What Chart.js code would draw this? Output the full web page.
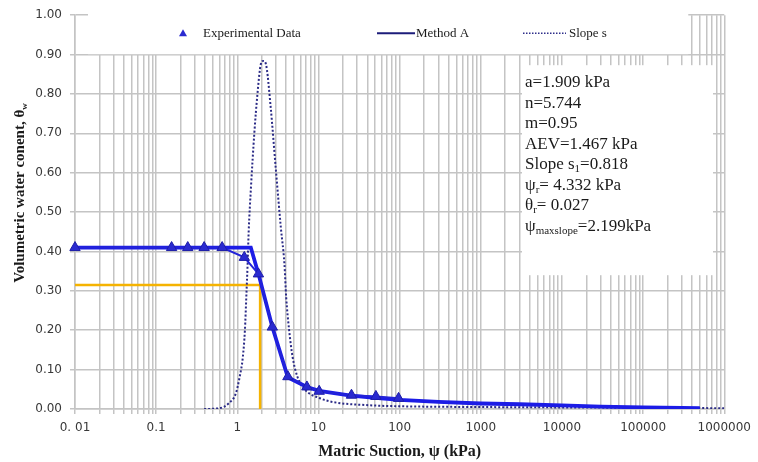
<!DOCTYPE html>
<html>
<head>
<meta charset="utf-8">
<script src="https://cdn.jsdelivr.net/npm/chart.js@4.4.1/dist/chart.umd.min.js"></script>
<style>
  html, body { margin: 0; padding: 0; background: #fff; }
  #wrap { width: 758px; height: 462px; }
</style>
</head>
<body>
<div id="wrap"><canvas id="swcc" width="758" height="462"></canvas></div>
<script>
// measured points (suction in kPa, volumetric water content)
const expSuction = [0.01, 0.155, 0.245, 0.39, 0.65, 1.22, 1.82, 2.7, 4.2, 7.2, 10.2, 25.5, 51, 97];
const expTheta   = [0.41, 0.41, 0.41, 0.41, 0.41, 0.385, 0.343, 0.208, 0.082, 0.056, 0.045, 0.035, 0.032, 0.027];

// Method A fit
const fitSuction = [0.01, 1.467, 1.85, 2.7, 4.2, 7.2, 10.2, 25, 50, 100, 300, 1000, 3000, 10000, 30000, 100000, 300000, 500000];
const fitTheta   = [0.41, 0.41, 0.338, 0.208, 0.08, 0.056, 0.046, 0.034, 0.028, 0.023, 0.018, 0.014, 0.012, 0.009, 0.006, 0.004, 0.003, 0.002];

// slope s curve
const slopeSuction = [0.39, 0.6, 0.79, 0.96, 1.07, 1.17, 1.24, 1.29, 1.34, 1.38, 1.47, 1.62, 1.77, 1.95, 2.09, 2.25, 2.58, 2.97, 3.44, 3.8, 4.0, 4.35, 4.8, 5.5, 6.9, 10.2, 14.8, 38, 100, 1000, 10000, 100000, 1000000];
const slopeValue   = [0, 0.002, 0.015, 0.04, 0.082, 0.132, 0.2, 0.284, 0.37, 0.45, 0.56, 0.70, 0.80, 0.876, 0.884, 0.876, 0.765, 0.613, 0.46, 0.37, 0.284, 0.2, 0.132, 0.082, 0.048, 0.028, 0.018, 0.01, 0.007, 0.005, 0.004, 0.003, 0.002];

// guide lines at a = 1.909 kPa
const guideSuction = [0.01, 1.909, 1.909];
const guideTheta   = [0.315, 0.315, 0];

const decadeTicks  = [0.01, 0.1, 1, 10, 100, 1000, 10000, 100000, 1000000];
const decadeLabels = ['0. 01', '0.1', '1', '10', '100', '1000', '10000', '100000', '1000000'];
const minorSteps   = [2, 3, 4, 5, 6, 7, 8, 9];

// text box lines: [text, isSubscript]
const fitParams = [
    [['a=1.909 kPa']],
    [['n=5.744']],
    [['m=0.95']],
    [['AEV=1.467 kPa']],
    [['Slope s'], ['1', true], ['=0.818']],
    [['\u03c8'], ['r', true], ['= 4.332 kPa']],
    [['\u03b8'], ['r', true], ['= 0.027']],
    [['\u03c8'], ['maxslope', true], ['=2.199kPa']]
];

const pts = (xs, ys) => xs.map((x, i) => ({ x: x, y: ys[i] }));
const tickValues = decadeTicks.flatMap((d, i) =>
    i < decadeTicks.length - 1 ? [d, ...minorSteps.map(m => m * d)] : [d]);

const SERIF = '"Liberation Serif", "Times New Roman", serif';
const gridColor = '#c4c4c4';
const labelColor = '#383838';

function drawRich(ctx, parts, x, y, size, weight) {
    const mainFont = `${weight} ${size}px ${SERIF}`;
    const subFont = `${weight} ${Math.round(size * 0.62)}px ${SERIF}`;
    let cx = x;
    parts.forEach(([text, sub]) => {
        ctx.font = sub ? subFont : mainFont;
        ctx.fillText(text, cx, sub ? y + size * 0.28 : y);
        cx += ctx.measureText(text).width;
    });
    return cx - x;
}

function richWidth(ctx, parts, size, weight) {
    let w = 0;
    parts.forEach(([text, sub]) => {
        ctx.font = `${weight} ${sub ? Math.round(size * 0.62) : size}px ${SERIF}`;
        w += ctx.measureText(text).width;
    });
    return w;
}

const overlay = {
    id: 'overlay',
    beforeDatasetsDraw(chart) {
        const { ctx, chartArea: ca } = chart;
        ctx.save();
        ctx.fillStyle = '#ffffff';
        // legend panel
        ctx.fillRect(ca.left + 13, ca.top - 2, ca.right - ca.left - 49, 41);
        // parameter panel
        ctx.fillRect(ca.left + 447, ca.top + 50, 191, 210);
        ctx.restore();
    },
    afterDraw(chart) {
        const { ctx, chartArea: ca } = chart;
        ctx.save();
        ctx.textBaseline = 'middle';
        ctx.fillStyle = '#1a1a1a';

        // legend
        const ly = ca.top + 18;
        const ds = chart.data.datasets;
        ctx.font = `13px ${SERIF}`;
        // triangle marker
        ctx.fillStyle = ds[0].pointBackgroundColor;
        ctx.beginPath();
        ctx.moveTo(183, ly - 4);
        ctx.lineTo(187, ly + 3);
        ctx.lineTo(179, ly + 3);
        ctx.closePath();
        ctx.fill();
        ctx.fillStyle = '#1a1a1a';
        ctx.fillText(ds[0].label, 203, ly);
        // solid line
        ctx.strokeStyle = '#1c1c7a';
        ctx.lineWidth = 2;
        ctx.beginPath();
        ctx.moveTo(377, ly);
        ctx.lineTo(415, ly);
        ctx.stroke();
        ctx.fillText(ds[1].label, 416, ly);
        // dotted line
        ctx.setLineDash([1.5, 1.5]);
        ctx.lineWidth = 1.5;
        ctx.strokeStyle = '#2e2e8a';
        ctx.beginPath();
        ctx.moveTo(523, ly);
        ctx.lineTo(566, ly);
        ctx.stroke();
        ctx.setLineDash([]);
        ctx.fillText(ds[2].label, 569, ly);

        // parameter text
        fitParams.forEach((parts, i) => {
            drawRich(ctx, parts, ca.left + 450, ca.top + 67.5 + i * 20.5, 17, 'normal');
        });

        // y axis title
        const yTitle = [['Volumetric water conent, \u03b8'], ['w', true]];
        const w = richWidth(ctx, yTitle, 15, 'bold');
        ctx.translate(20, 193);
        ctx.rotate(-Math.PI / 2);
        drawRich(ctx, yTitle, -w / 2, 0, 15, 'bold');
        ctx.restore();
    }
};

new Chart(document.getElementById('swcc'), {
    type: 'scatter',
    data: {
        datasets: [
            {
                label: 'Experimental Data',
                data: pts(expSuction, expTheta),
                showLine: true,
                borderColor: '#2323d8',
                borderWidth: 2,
                pointStyle: 'triangle',
                pointRadius: 6,
                pointBackgroundColor: '#2a2ad0',
                pointBorderColor: '#1e1ea8',
                pointBorderWidth: 1,
                clip: 8
            },
            {
                label: 'Method A',
                data: pts(fitSuction, fitTheta),
                showLine: true,
                borderColor: '#1c1ce6',
                borderWidth: 3.8,
                pointRadius: 0,
                tension: 0
            },
            {
                label: 'Slope s',
                data: pts(slopeSuction, slopeValue),
                showLine: true,
                borderColor: '#2a2a86',
                borderWidth: 2,
                borderDash: [2, 2],
                pointRadius: 0,
                cubicInterpolationMode: 'monotone'
            },
            {
                label: 'a',
                data: pts(guideSuction, guideTheta),
                showLine: true,
                borderColor: '#f5b301',
                borderWidth: 2.5,
                pointRadius: 0
            }
        ]
    },
    options: {
        responsive: false,
        animation: false,
        events: [],
        layout: { padding: { left: 0, top: 13, right: 28, bottom: 0 } },
        plugins: {
            legend: { display: false },
            tooltip: { enabled: false }
        },
        scales: {
            x: {
                type: 'logarithmic',
                min: 0.01,
                max: 1000000,
                afterBuildTicks: axis => { axis.ticks = tickValues.map(v => ({ value: v })); },
                afterFit: axis => { axis.height = 53; },
                grid: { color: gridColor, lineWidth: 1.5, tickLength: 5 },
                border: { color: gridColor, width: 1.5 },
                ticks: {
                    autoSkip: false,
                    maxRotation: 0,
                    padding: 7,
                    color: labelColor,
                    font: { family: 'DejaVu Sans', size: 12 },
                    callback: v => {
                        const i = decadeTicks.findIndex(d => Math.abs(d - v) / d < 1e-9);
                        return i >= 0 ? decadeLabels[i] : '';
                    }
                },
                title: {
                    display: true,
                    text: 'Matric Suction, \u03c8 (kPa)',
                    color: '#1a1a1a',
                    font: { family: SERIF, size: 16, weight: 'bold' },
                    padding: { top: 0, bottom: 1 }
                }
            },
            y: {
                min: 0,
                max: 1,
                afterFit: axis => { axis.width = 75; },
                grid: { color: gridColor, lineWidth: 1.5, tickLength: 5 },
                border: { color: gridColor, width: 1.5 },
                ticks: {
                    stepSize: 0.1,
                    padding: 8,
                    color: labelColor,
                    font: { family: 'DejaVu Sans', size: 12 },
                    callback: v => v.toFixed(2)
                }
            }
        }
    },
    plugins: [overlay]
});
</script>
</body>
</html>
